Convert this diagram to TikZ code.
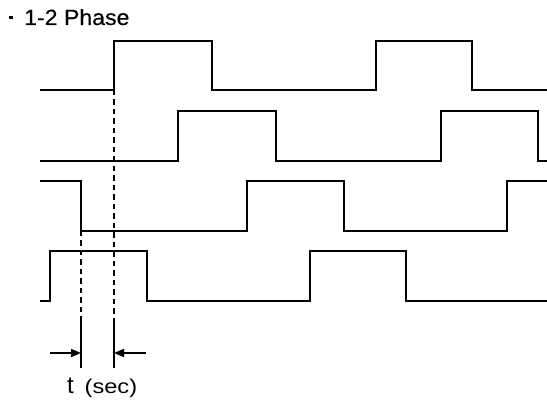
\documentclass[tikz,border=0pt]{standalone}
\usepackage{fontspec}
\setmainfont{Liberation Sans}
\usetikzlibrary{arrows.meta}
\begin{document}
\begin{tikzpicture}[x=1pt,y=-1pt,
  wave/.style={line width=2.1pt,line join=miter,line cap=butt},
  guide/.style={line width=1.2pt,dash pattern=on 5.5pt off 4pt},
  marker/.style={line width=1.2pt},
  dimarrow/.style={line width=1.5pt,-{Triangle[length=10pt,width=8pt]}},
  lbl/.style={inner sep=0pt,anchor=base west}]
\useasboundingbox (0,0) rectangle (547,403);
% title
\fill (9,16) rectangle (12.5,19.5);
\node[lbl] (title) at (24,25) {\scalebox{1.05}[1]{\fontsize{22}{26}\selectfont\addfontfeature{FakeBold=0.3}1-2 Phase}};
% waveforms
\draw[wave] (40,90) -- (114,90) -- (114,41) -- (212,41) -- (212,90) -- (376,90) -- (376,41) -- (472,41) -- (472,90) -- (547,90);
\draw[wave] (40,161) -- (178,161) -- (178,111) -- (276,111) -- (276,161) -- (441,161) -- (441,111) -- (538,111) -- (538,161) -- (547,161);
\draw[wave] (40,181) -- (81,181) -- (81,231) -- (247,231) -- (247,181) -- (344,181) -- (344,231) -- (507,231) -- (507,181) -- (547,181);
\draw[wave] (40,301) -- (50,301) -- (50,251) -- (147,251) -- (147,301) -- (310,301) -- (310,251) -- (406,251) -- (406,301) -- (547,301);
% guides
\coordinate (gA) at (81,231);
\coordinate (gB) at (114,90);
\coordinate (mA) at (81,320);
\coordinate (mB) at (114,320);
\coordinate (eA) at (81,368);
\coordinate (eB) at (114,368);
\draw[guide] (gA) -- (mA);
\draw[guide] (gB) -- (mB);
\draw[marker] (mA) -- (eA);
\draw[marker] (mB) -- (eB);
% arrows
\coordinate (aL) at (50,353);
\coordinate (tL) at (81,353);
\coordinate (aR) at (146,353);
\coordinate (tR) at (114,353);
\draw[dimarrow] (aL) -- (tL);
\draw[dimarrow] (aR) -- (tR);
% label
\node[lbl] (tlab) at (67,394) {\fontsize{24}{28}\selectfont t};
\node[lbl] (seclab) at (84.5,394) {\scalebox{1.18}[1]{\fontsize{20}{24}\selectfont (sec)}};
\end{tikzpicture}
\end{document}
